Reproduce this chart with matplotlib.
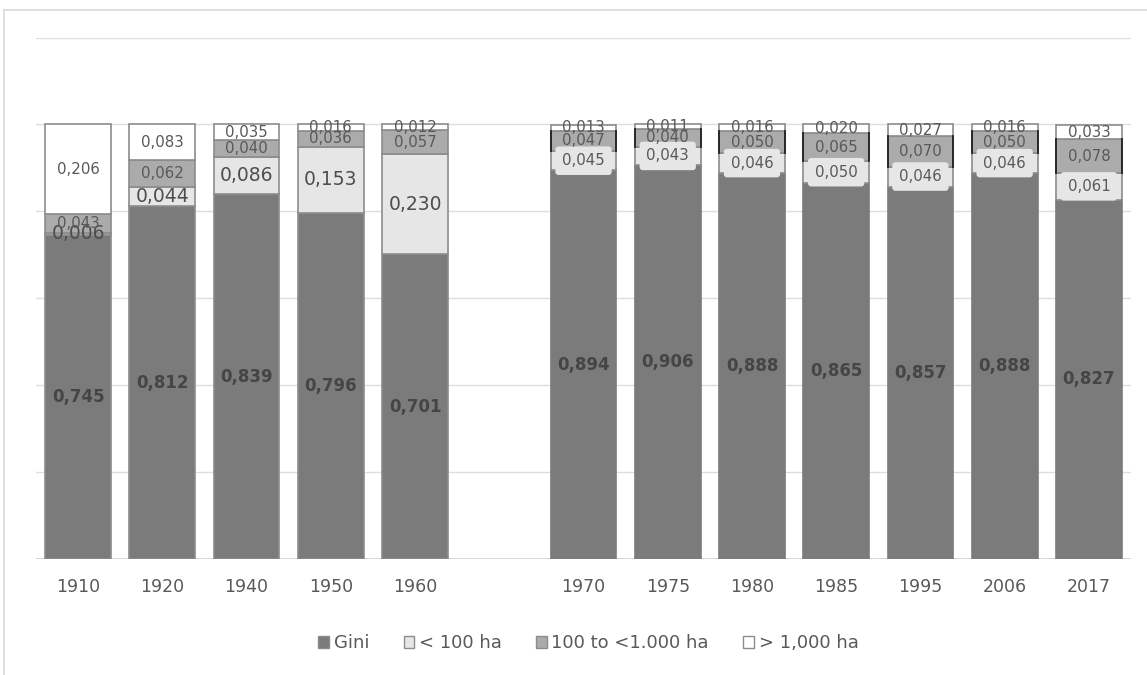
import numpy as np
import matplotlib.pyplot as plt
from matplotlib.patches import Patch
from matplotlib.lines import Line2D

# Datos: índice de Gini y participación por tamaño de propiedad
years = ['1910', '1920', '1940', '1950', '1960',
         '1970', '1975', '1980', '1985', '1995', '2006', '2017']
gini = [0.745, 0.812, 0.839, 0.796, 0.701,
        0.894, 0.906, 0.888, 0.865, 0.857, 0.888, 0.827]
small = [0.006, 0.044, 0.086, 0.153, 0.230,
         0.045, 0.043, 0.046, 0.050, 0.046, 0.046, 0.061]
medium = [0.043, 0.062, 0.040, 0.036, 0.057,
          0.047, 0.040, 0.050, 0.065, 0.070, 0.050, 0.078]
large = [0.206, 0.083, 0.035, 0.016, 0.012,
         0.013, 0.011, 0.016, 0.020, 0.027, 0.016, 0.033]
series_names = ['Gini', '< 100 ha', '100 to <1.000 ha', '> 1,000 ha']

colors = ['#7b7b7b', '#e6e6e6', '#ababab', '#ffffff']
edge = '#8c8c8c'
txt = '#595959'

plt.rcParams['font.family'] = ['DejaVu Sans']

# un hueco entre 1960 y 1970
n = len(years)
x = np.arange(n) + (np.arange(n) >= 5)
second = np.arange(n) >= 5

fig = plt.figure(figsize=(11.47, 6.75), dpi=100)
ax = fig.add_axes([36 / 1147, 116 / 675, 1095 / 1147, 521.5 / 675])
ax.set_xlim(-0.5, 12.5)
ax.set_ylim(0, 1.2)

for yv in np.arange(0.2, 1.21, 0.2):
    ax.axhline(yv, color='#dedede', lw=1, zorder=0)
ax.axhline(0, color='#d0d0d0', lw=1.2, zorder=0)

width = 0.78
bottom = np.zeros(n)
stacks = [gini, small, medium, large]
for k, vals in enumerate(stacks):
    vals = np.array(vals)
    ec = [colors[0] if k == 0 and s else edge for s in second]
    ax.bar(x, vals, width, bottom=bottom, color=colors[k],
           edgecolor=ec, linewidth=1.2, zorder=2)
    mids = bottom + vals / 2
    for i in range(n):
        label = f'{vals[i]:.3f}'.replace('.', ',')
        if k == 0:
            ax.text(x[i], mids[i], label, ha='center', va='center',
                    fontsize=12, fontweight='semibold', color='#454545', zorder=5)
        elif k == 1:
            if second[i]:
                ax.text(x[i], mids[i], label, ha='center', va='center',
                        fontsize=10.8, color=txt, zorder=5,
                        bbox=dict(boxstyle='round,pad=0.45,rounding_size=0.2',
                                  fc=colors[1], ec='none'))
            else:
                ax.text(x[i], mids[i], label, ha='center', va='center',
                        fontsize=13.5, color='#4d4d4d', zorder=5)
        else:
            ax.text(x[i], mids[i], label, ha='center', va='center',
                    fontsize=10.8, color=txt, zorder=5)
        # bordes oscuros laterales del tramo intermedio
        if k == 2 and second[i]:
            for side in (-1, 1):
                ax.plot([x[i] + side * width / 2] * 2,
                        [bottom[i], bottom[i] + vals[i]],
                        color='#202020', lw=1.3, zorder=3)
    bottom = bottom + vals

ax.set_xticks(x)
ax.set_xticklabels(years, fontsize=12.5, color=txt)
ax.tick_params(axis='x', length=0, pad=14)
ax.set_yticks([])
for s in ax.spines.values():
    s.set_visible(False)

handles = [Patch(facecolor=c, edgecolor=edge, linewidth=1) for c in colors]
fig.legend(handles, series_names, loc='center', bbox_to_anchor=(0.513, 0.047),
           ncol=4, frameon=False, fontsize=13, labelcolor=txt,
           handlelength=0.6, handleheight=0.6, handletextpad=0.25,
           columnspacing=1.9)

# marco exterior del gráfico
fig.add_artist(Line2D([4 / 1147, 4 / 1147], [0, 1 - 10 / 675],
                      transform=fig.transFigure, color='#d9d9d9', lw=1.2))
fig.add_artist(Line2D([4 / 1147, 1], [1 - 10 / 675, 1 - 10 / 675],
                      transform=fig.transFigure, color='#d9d9d9', lw=1.2))

fig.savefig('out.png', dpi=100)
